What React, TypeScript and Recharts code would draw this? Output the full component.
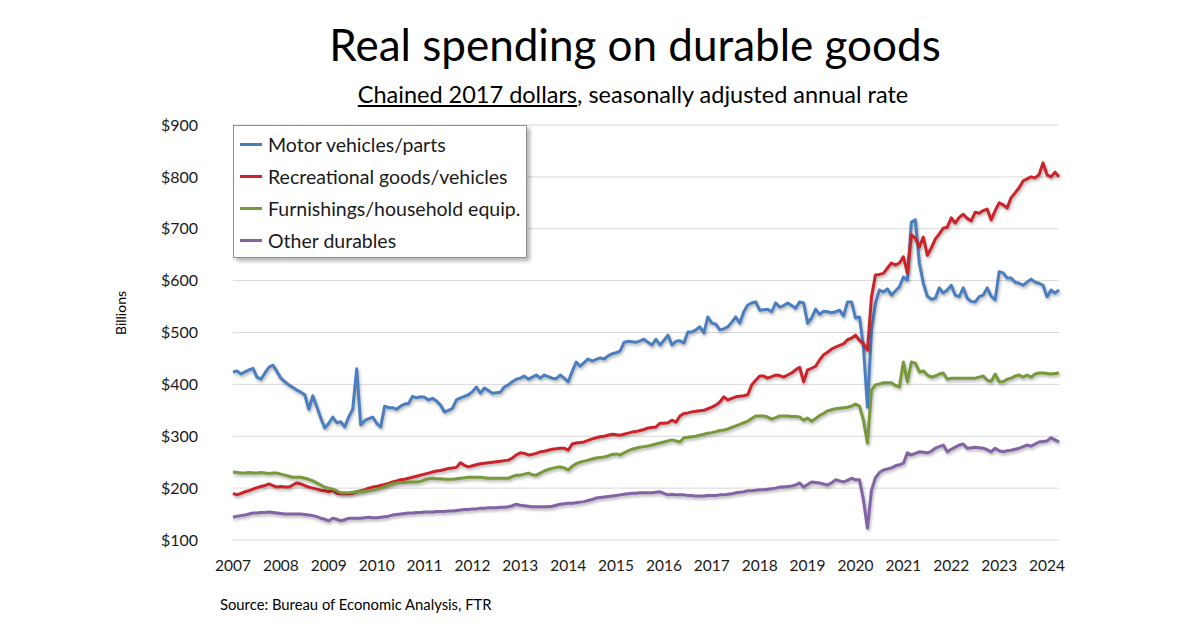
import React from 'react'
import { LineChart, Line, XAxis, YAxis, CartesianGrid, Legend } from 'recharts'

// Monthly values, Jan 2007 .. Apr 2024, billions of chained 2017 dollars (SAAR)
const yearLabels = [
  '2007', '2008', '2009', '2010', '2011', '2012', '2013', '2014', '2015',
  '2016', '2017', '2018', '2019', '2020', '2021', '2022', '2023', '2024',
]
const valueTicks = [100, 200, 300, 400, 500, 600, 700, 800, 900]

const motorVehicles = [
  424, 426, 420, 424, 428, 431, 414, 410, 422, 433, 437, 425,
  412, 405, 399, 394, 389, 385, 380, 352, 378, 357, 335, 316,
  325, 337, 326, 328, 318, 337, 352, 430, 322, 330, 334, 337,
  325, 318, 358, 355, 355, 352, 358, 362, 363, 377, 374, 376,
  375, 370, 373, 368, 360, 347, 350, 354, 370, 374, 377, 380,
  386, 395, 383, 393, 388, 383, 384, 385, 395, 399, 405, 410,
  412, 416, 410, 414, 418, 412, 418, 415, 412, 411, 418, 412,
  405, 425, 443, 435, 442, 449, 445, 448, 451, 449, 455, 459,
  461, 464, 481, 483, 482, 481, 484, 487, 481, 476, 487, 476,
  485, 495, 476, 483, 484, 480, 501, 501, 505, 511, 499, 530,
  518, 516, 505, 507, 511, 520, 530, 518, 540, 553, 557, 559,
  543, 544, 545, 540, 557, 549, 552, 557, 552, 547, 559, 557,
  518, 528, 545, 535, 541, 540, 538, 540, 543, 532, 559, 559,
  528, 530, 472, 356, 505, 557, 582, 578, 584, 572, 580, 588,
  607, 601, 713, 717, 634, 595, 570, 564, 566, 586, 576, 582,
  591, 572, 569, 586, 566, 560, 559, 569, 572, 586, 570, 563,
  617, 615, 605, 605, 597, 595, 591, 597, 603, 597, 595, 591,
  569, 582, 576, 582,
]

const recreational = [
  190, 187, 190, 193, 195, 198, 201, 203, 205, 208, 205, 202,
  203, 202, 202, 206, 210, 208, 205, 202, 200, 198, 196, 195,
  193, 196, 190, 189, 189, 189, 190, 193, 195, 197, 200, 202,
  203, 205, 207, 209, 212, 214, 216, 217, 219, 221, 223, 225,
  227, 229, 231, 233, 234, 236, 238, 239, 240, 249, 244, 241,
  243, 245, 247, 248, 249, 250, 251, 252, 253, 254, 258, 264,
  268, 267, 264, 265, 267, 270, 271, 273, 275, 276, 277, 277,
  273, 285, 287, 288, 289, 292, 295, 297, 299, 300, 302, 304,
  303, 302, 304, 306, 308, 309, 311, 313, 316, 317, 318, 325,
  325, 326, 331, 327, 339, 344, 345, 347, 348, 349, 350, 353,
  356, 360, 366, 376, 370, 373, 376, 377, 378, 380, 399, 408,
  416, 416, 412, 415, 418, 417, 414, 418, 422, 428, 433, 405,
  428, 431, 435, 447, 457, 462, 468, 472, 475, 478, 486, 489,
  495, 485, 478, 466, 568, 611, 612, 614, 624, 634, 630, 634,
  646, 615, 688, 682, 665, 684, 649, 663, 680, 690, 701, 703,
  721, 711, 722, 728, 720, 715, 732, 730, 735, 738, 717, 735,
  750, 746, 740, 760, 769, 779, 792, 796, 800, 798, 804, 827,
  804, 800, 809, 800,
]

const furnishings = [
  231, 230, 229, 229, 230, 229, 229, 230, 229, 228, 229, 229,
  227, 225, 223, 221, 221, 221, 219, 217, 214, 210, 206, 202,
  200, 198, 195, 191, 191, 191, 192, 193, 193, 194, 195, 196,
  198, 200, 203, 206, 208, 210, 211, 211, 212, 212, 212, 213,
  216, 218, 219, 218, 218, 217, 217, 217, 218, 219, 220, 221,
  221, 221, 221, 220, 219, 219, 219, 219, 219, 219, 222, 225,
  225, 227, 229, 226, 225, 229, 233, 236, 238, 240, 241, 239,
  235, 242, 247, 250, 252, 254, 256, 258, 259, 260, 262, 265,
  266, 264, 268, 272, 275, 277, 279, 280, 281, 283, 285, 287,
  289, 291, 293, 291, 289, 297, 298, 299, 300, 302, 304, 306,
  307, 309, 311, 312, 314, 317, 320, 323, 326, 329, 334, 339,
  339, 339, 337, 333, 336, 339, 339, 339, 338, 338, 337, 331,
  335, 329, 334, 340, 344, 349, 351, 353, 354, 355, 356, 358,
  362, 358, 331, 287, 389, 399, 401, 403, 403, 403, 398, 395,
  443, 405, 443, 441, 424, 426, 418, 414, 416, 420, 422, 410,
  412, 412, 412, 412, 412, 412, 412, 414, 416, 408, 406, 420,
  405, 405, 410, 412, 416, 418, 414, 418, 414, 420, 422, 422,
  421, 420, 421, 422,
]

const otherDurables = [
  144, 146, 147, 148, 150, 152, 152, 153, 153, 154, 153, 152,
  151, 150, 150, 150, 150, 150, 149, 148, 147, 145, 142, 140,
  137, 142, 140, 137, 139, 142, 142, 142, 142, 143, 144, 143,
  143, 144, 145, 146, 148, 149, 150, 151, 152, 152, 153, 153,
  154, 154, 154, 155, 155, 155, 156, 156, 157, 158, 159, 159,
  160, 160, 161, 161, 162, 162, 162, 163, 163, 164, 166, 169,
  167, 166, 165, 164, 164, 164, 164, 164, 165, 167, 169, 170,
  171, 171, 172, 173, 174, 176, 178, 181, 182, 183, 184, 185,
  186, 187, 188, 189, 190, 190, 191, 191, 191, 191, 192, 193,
  190, 187, 188, 187, 187, 187, 186, 186, 185, 185, 185, 186,
  186, 186, 187, 187, 188, 189, 191, 192, 193, 195, 195, 196,
  197, 197, 198, 199, 200, 202, 202, 203, 204, 206, 210, 202,
  207, 212, 211, 210, 208, 206, 210, 216, 214, 212, 215, 219,
  216, 216, 177, 123, 196, 220, 230, 235, 237, 239, 243, 245,
  248, 268, 264, 267, 270, 269, 268, 271, 277, 280, 283, 270,
  275, 279, 283, 285, 277, 278, 279, 278, 277, 274, 270, 277,
  272, 270, 272, 273, 275, 277, 280, 283, 281, 285, 289, 290,
  291, 297, 293, 289,
]

const seriesList = [
  { key: 'motor', name: 'Motor vehicles/parts', color: '#4a7ebf', values: motorVehicles },
  { key: 'rec', name: 'Recreational goods/vehicles', color: '#cc2229', values: recreational },
  { key: 'furn', name: 'Furnishings/household equip.', color: '#77983b', values: furnishings },
  { key: 'other', name: 'Other durables', color: '#8264a6', values: otherDurables },
]

const chartData = motorVehicles.map((_, i) => {
  const row: Record<string, number> = { m: i }
  seriesList.forEach(s => { row[s.key] = s.values[i] })
  return row
})

const yearTicks = yearLabels.map((_, i) => i * 12)

const FONT = 'Lato, "Noto Sans", sans-serif'

function LegendBox() {
  return (
    <div
      style={{
        width: 294,
        height: 133,
        boxSizing: 'border-box',
        border: '1px solid #8f8f8f',
        background: '#fff',
        boxShadow: '3px 3px 4px rgba(0,0,0,0.3)',
        padding: '2px 0 0 6px',
        fontFamily: FONT,
        fontSize: 19.5,
        color: '#1a1a1a',
      }}
    >
      {seriesList.map(s => (
        <div key={s.key} style={{ display: 'flex', alignItems: 'center', height: 32 }}>
          <span style={{ width: 22, height: 3, background: s.color, marginRight: 6, flexShrink: 0 }} />
          <span style={{ whiteSpace: 'nowrap' }}>{s.name}</span>
        </div>
      ))}
    </div>
  )
}

export default function App() {
  const xTickStyle = { fill: '#1a1a1a', fontSize: 15.5, fontFamily: FONT }
  const yTickStyle = { fill: '#1a1a1a', fontSize: 16, fontFamily: FONT }

  return (
    <div
      style={{
        position: 'absolute',
        left: 0,
        top: 0,
        width: 1200,
        height: 628,
        background: '#fff',
        fontFamily: FONT,
        color: '#000',
        overflow: 'hidden',
      }}
    >
      <style>{`.recharts-line-curve { filter: drop-shadow(1.5px 2px 1.5px rgba(0,0,0,0.3)); }`}</style>

      <div style={{ position: 'absolute', left: 635, top: 22, transform: 'translateX(-50%)', fontSize: 44, lineHeight: 1, whiteSpace: 'nowrap' }}>
        Real spending on durable goods
      </div>
      <div style={{ position: 'absolute', left: 633, top: 83, transform: 'translateX(-50%)', fontSize: 23.5, lineHeight: 1, whiteSpace: 'nowrap' }}>
        <span style={{ textDecoration: 'underline' }}>Chained 2017 dollars</span>, seasonally adjusted annual rate
      </div>
      <div style={{ position: 'absolute', left: 121, top: 313, transform: 'translate(-50%, -50%) rotate(-90deg)', fontSize: 14, lineHeight: 1, whiteSpace: 'nowrap' }}>
        Billions
      </div>
      <div style={{ position: 'absolute', left: 220, top: 597, fontSize: 14.8, lineHeight: 1, whiteSpace: 'nowrap' }}>
        Source: Bureau of Economic Analysis, FTR
      </div>

      <div style={{ position: 'absolute', left: 0, top: 0 }}>
        <LineChart width={1200} height={628} data={chartData} margin={{ top: 125, right: 141, bottom: 58, left: 173 }}>
          <CartesianGrid vertical={false} stroke="#d9d9d9" strokeWidth={1} />
          <XAxis
            dataKey="m"
            type="number"
            domain={[0, 207]}
            ticks={yearTicks}
            interval={0}
            tickFormatter={(v: number) => yearLabels[Math.round(v / 12)]}
            axisLine={false}
            tickLine={false}
            tickSize={0}
            tickMargin={20}
            height={30}
            tick={xTickStyle}
          />
          <YAxis
            domain={[100, 900]}
            ticks={valueTicks}
            interval={0}
            tickFormatter={(v: number) => `$${v}`}
            axisLine={false}
            tickLine={false}
            tickSize={0}
            tickMargin={35}
            width={60}
            tick={yTickStyle}
          />
          <Legend
            layout="vertical"
            align="center"
            verticalAlign="middle"
            content={() => <LegendBox />}
            wrapperStyle={{ left: 233, top: 125, width: 294 }}
          />
          {seriesList.map(s => (
            <Line
              key={s.key}
              dataKey={s.key}
              name={s.name}
              stroke={s.color}
              strokeWidth={3}
              dot={false}
              isAnimationActive={false}
              strokeLinejoin="round"
            />
          ))}
        </LineChart>
      </div>
    </div>
  )
}
